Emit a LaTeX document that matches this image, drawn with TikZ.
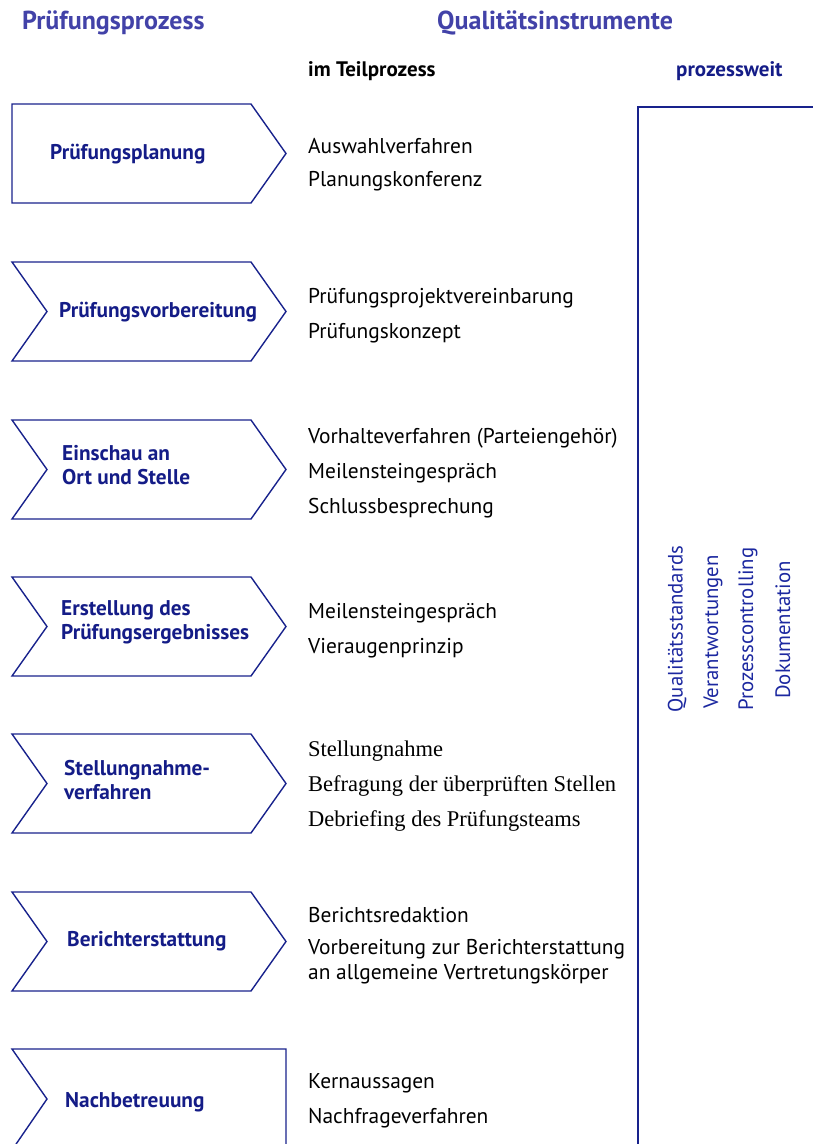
\documentclass[tikz,border=0pt]{standalone}
\usepackage{fontspec}
\setmainfont{PT Sans}
\newfontfamily\serifitem{Liberation Serif}
\usepackage{tikz}
\usetikzlibrary{positioning}

\definecolor{headblue}{RGB}{66,66,168}
\definecolor{navyline}{RGB}{24,34,140}
\definecolor{stagetext}{RGB}{20,28,135}
\definecolor{sideblue}{RGB}{28,40,160}

\tikzset{
  stage/.style={draw=navyline, line width=1.4pt, line join=miter},
  stagelabel/.style={anchor=west, align=left, text=stagetext, font=\fontsize{21.3}{24}\selectfont\bfseries, inner sep=0pt},
  item/.style={anchor=west, inner sep=0pt, font=\fontsize{21.4}{24}\selectfont},
  serifline/.style={item, font=\fontsize{22.5}{24}\selectfont\serifitem},
  heading/.style={anchor=west, inner sep=0pt, text=headblue, font=\fontsize{26}{30}\selectfont\bfseries},
  sidelabel/.style={rotate=90, inner sep=0pt, text=sideblue, font=\fontsize{20.8}{23}\selectfont},
}

\begin{document}
\begin{tikzpicture}[x=1pt, y=-1pt]
		\useasboundingbox (0,0) rectangle (813,1144);
		\clip (0,0) rectangle (813,1144);

		% headings
		\node[heading] (hproc) at (22,23) {Prüfungsprozess};
		\node[heading] (hqual) at (437,23) {Qualitätsinstrumente};
		\node[anchor=west, inner sep=0pt, font=\fontsize{21}{23}\selectfont\bfseries] (hteil) at (308,71) {im Teilprozess};
		\node[anchor=west, inner sep=0pt, text=stagetext, font=\fontsize{21}{23}\selectfont\bfseries] (hweit) at (676,71) {prozessweit};

		% process stages
		\draw[stage] (12,104) -- (251,104) -- (286,153.5) -- (251,203) -- (12,203) -- cycle;
		\foreach \t in {262,420,577,734,892}
			\draw[stage] (12,\t) -- (251,\t) -- (286,\t+49.5) -- (251,\t+99) -- (12,\t+99) -- (47,\t+49.5) -- cycle;
		\draw[stage] (12,1150) -- (47,1099) -- (12,1049) -- (286,1049) -- (286,1150);

		\node[stagelabel] (s1) at (50,154) {Prüfungsplanung};
		\node[stagelabel] (s2) at (59,312) {Prüfungsvorbereitung};
		\node[stagelabel] (s3) at (62,465) {Einschau an\\Ort und Stelle};
		\node[stagelabel] (s4) at (61,622) {Erstellung des\\Prüfungsergebnisses};
		\node[stagelabel] (s5) at (64,780) {Stellungnahme-\\verfahren};
		\node[stagelabel] (s6) at (67,941) {Berichterstattung};
		\node[stagelabel] (s7) at (65,1102) {Nachbetreuung};

		% instruments per stage
		\node[item] (i1a) at (308,146) {Auswahlverfahren};
		\node[item] (i1b) at (308,181) {Planungskonferenz};
		\node[item] (i2a) at (308,298) {Prüfungsprojektvereinbarung};
		\node[item] (i2b) at (308,333) {Prüfungskonzept};
		\node[item] (i3a) at (308,438) {Vorhalteverfahren (Parteiengehör)};
		\node[item] (i3b) at (308,473) {Meilensteingespräch};
		\node[item] (i3c) at (308,508) {Schlussbesprechung};
		\node[item] (i4a) at (308,613) {Meilensteingespräch};
		\node[item] (i4b) at (308,648) {Vieraugenprinzip};
		\node[serifline] (i5a) at (308,751) {Stellungnahme};
		\node[serifline] (i5b) at (308,786) {Befragung der überprüften Stellen};
		\node[serifline] (i5c) at (308,821) {Debriefing des Prüfungsteams};
		\node[item] (i6a) at (308,915) {Berichtsredaktion};
		\node[item, align=left, font=\fontsize{21.4}{25}\selectfont] (i6b) at (308,962) {Vorbereitung zur Berichterstattung\\an allgemeine Vertretungskörper};
		\node[item] (i7a) at (308,1083) {Kernaussagen};
		\node[item] (i7b) at (308,1118) {Nachfrageverfahren};

		% process-wide bracket
		\coordinate (wtop) at (638,107);
		\coordinate (wright) at (815,107);
		\coordinate (wbot) at (638,1150);
		\draw[navyline, line width=2pt] (wright) -- (wtop) -- (wbot);

		\node[sidelabel] (q1) at (677,629) {Qualitätsstandards};
		\node[sidelabel] (q2) at (713,632) {Verantwortungen};
		\node[sidelabel] (q3) at (748,629) {Prozesscontrolling};
		\node[sidelabel] (q4) at (783,630) {Dokumentation};
	\end{tikzpicture}
\end{document}
